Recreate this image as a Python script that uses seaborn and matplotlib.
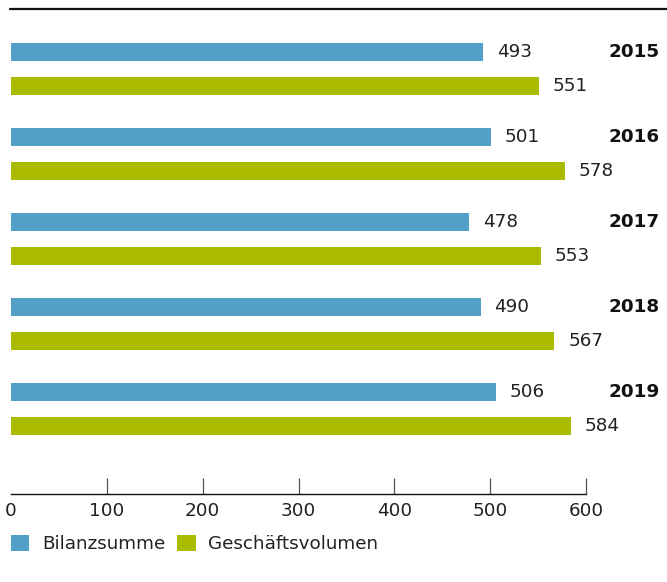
import pandas as pd
import seaborn as sns
from matplotlib import pyplot as plt
from matplotlib.lines import Line2D
from matplotlib.patches import Patch
from matplotlib.transforms import blended_transform_factory

years = ["2015", "2016", "2017", "2018", "2019"]
bilanzsumme = [493, 501, 478, 490, 506]
geschaeftsvolumen = [551, 578, 553, 567, 584]
series_names = ["Bilanzsumme", "Geschäftsvolumen"]
colors = ["#539FC6", "#AABB00"]
xticks = [0, 100, 200, 300, 400, 500, 600]

df = pd.DataFrame({
    "Jahr": years * 2,
    "Wert": bilanzsumme + geschaeftsvolumen,
    "Reihe": [series_names[0]] * len(years) + [series_names[1]] * len(years),
})

sns.set_style("white")
plt.rcParams["font.family"] = ["DejaVu Sans"]
FS = 13.2

fig = plt.figure(figsize=(6.67, 5.82), dpi=100)
ax = fig.add_axes([11 / 667, 1 - 494 / 582, 575 / 667, 485 / 582])

sns.barplot(data=df, y="Jahr", x="Wert", hue="Reihe", orient="h",
            palette=colors, saturation=1, width=0.8, gap=0.47,
            legend=False, linewidth=0, ax=ax)

for cont in ax.containers:
    ax.bar_label(cont, padding=10, fontsize=FS, color="#222222")

ax.set_xlim(0, 600)
ax.set_ylim(5.0, -0.706)
ax.set_xticks(xticks)
ax.set_xticklabels([str(t) for t in xticks], fontsize=FS, color="#222222")
ax.tick_params(axis="x", direction="in", length=11.5, width=0.9,
               color="#555555", pad=6, bottom=True)
ax.xaxis.get_major_ticks()[0].tick1line.set_visible(False)
ax.set_yticks([])
ax.set_xlabel("")
ax.set_ylabel("")
for s in ["top", "right", "left"]:
    ax.spines[s].set_visible(False)
ax.spines["bottom"].set_color("#111111")
ax.spines["bottom"].set_linewidth(1.0)

# year labels on the right
trans = blended_transform_factory(fig.transFigure, ax.transData)
for i, y in enumerate(years):
    ax.text(660 / 667, i - 0.2, y, transform=trans, ha="right", va="center",
            fontsize=FS, fontweight="bold", color="#111111")

# top rule
fig.add_artist(Line2D([10 / 667, 1.0], [1 - 9 / 582, 1 - 9 / 582],
                      transform=fig.transFigure, color="#111111", lw=1.6))

handles = [Patch(facecolor=c, edgecolor="none") for c in colors]
fig.legend(handles, series_names, loc="center left",
           bbox_to_anchor=(11 / 667, 1 - 544 / 582), ncol=2, frameon=False,
           fontsize=FS, handlelength=1.0, handleheight=1.0,
           handletextpad=0.7, columnspacing=0.65, borderpad=0,
           borderaxespad=0, labelcolor="#222222")

fig.savefig("out.png", dpi=100)
